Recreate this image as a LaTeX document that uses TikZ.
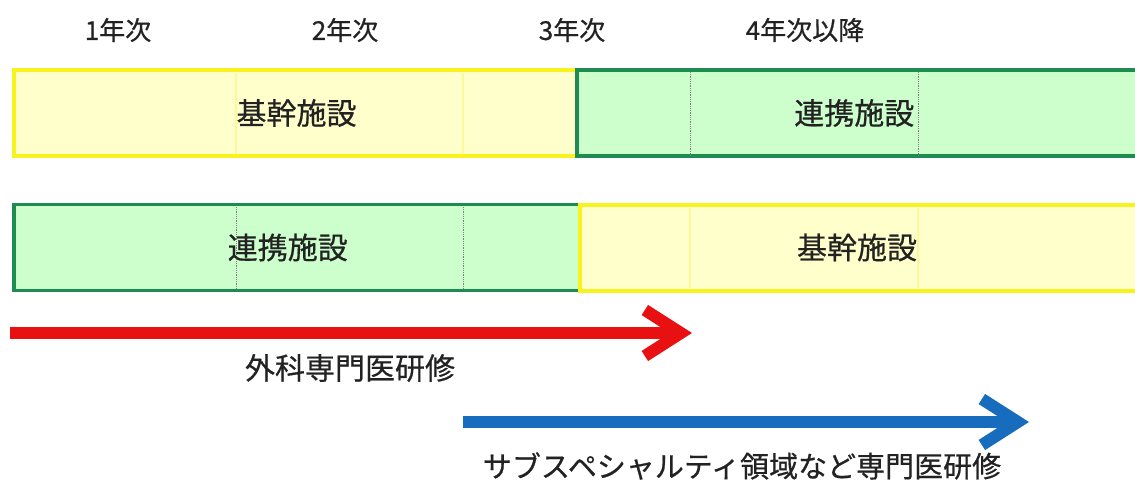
\documentclass[tikz,border=0pt]{standalone}
\usepackage{fontspec}
\setmainfont{Noto Sans CJK JP}[FakeBold=0.6]
\usetikzlibrary{arrows.meta}
\definecolor{kiiro}{RGB}{248,242,30}
\definecolor{kiirofill}{RGB}{255,255,204}
\definecolor{midori}{RGB}{30,140,80}
\definecolor{midorifill}{RGB}{204,255,204}
\definecolor{aka}{RGB}{232,16,16}
\definecolor{ao}{RGB}{24,108,190}
\definecolor{moji}{RGB}{34,34,34}
\tikzset{
	bar/.style={minimum height=86pt, inner sep=0pt, anchor=west},
	kikan/.style={bar, draw=kiiro, fill=kiirofill, line width=4pt},
	renkei/.style={bar, draw=midori, fill=midorifill, line width=3.5pt},
	shisetsu/.style={text=moji, font=\fontsize{30}{30}\selectfont},
	nendo/.style={text=moji, font=\fontsize{26}{26}\selectfont},
	kenshu/.style={-{Straight Barb[length=36pt,width=46pt]}, line width=12pt},
	setsumei/.style={text=moji, font=\fontsize{30}{30}\selectfont},
	kugiri/.style={densely dotted, gray, line width=0.8pt},
	kugirik/.style={kiiro!45, line width=1.2pt}
}

\begin{document}
\begin{tikzpicture}[x=1pt, y=-1pt]
	\useasboundingbox (0,0) rectangle (1135,485);
	\clip (0,0) rectangle (1135,485);
	\node[nendo] (n1) at (118,30) {1年次}; \node[nendo] (n2) at (345,30) {2年次};
	\node[nendo] (n3) at (572,30) {3年次}; \node[nendo] (n4) at (805,30) {4年次以降};
	% upper course
	\node[kikan, minimum width=563pt] (k1) at (12,113) {};
	\node[renkei, minimum width=567pt] (r1) at (575,113) {};
	\draw[kugirik] (236,73) -- (236,154); \draw[kugirik] (463,73) -- (463,154);
	\draw[kugiri] (690,72) -- (690,155); \draw[kugiri] (918,72) -- (918,155);
	\node[shisetsu] (k1t) at ([xshift=1pt]k1.center) {基幹施設};
	\node[shisetsu] (r1t) at ([xshift=-6pt]r1.center) {連携施設};
	% lower course
	\node[renkei, minimum width=566pt] (r2) at (12,247.5) {};
	\node[kikan, minimum width=564pt] (k2) at (578,247.5) {};
	\draw[kugiri] (236,207) -- (236,289); \draw[kugiri] (463,207) -- (463,289);
	\draw[kugirik] (690,208) -- (690,288); \draw[kugirik] (918,208) -- (918,288);
	\node[shisetsu] (r2t) at ([xshift=-9pt]r2.center) {連携施設};
	\node[shisetsu] (k2t) at ([xshift=-5pt]k2.center) {基幹施設};
	% arrows
	\coordinate (akaS) at (10,333); \coordinate (akaE) at (692,333);
	\draw[kenshu, aka] (akaS) -- (akaE);
	\node[setsumei] (g1) at (350,368) {外科専門医研修};
	\coordinate (aoS) at (463,422); \coordinate (aoE) at (1029,422);
	\draw[kenshu, ao] (aoS) -- (aoE);
	\node[setsumei, font=\fontsize{29}{29}\selectfont] (g2) at (742,466) {サブスペシャルティ領域など専門医研修};
\end{tikzpicture}
\end{document}
